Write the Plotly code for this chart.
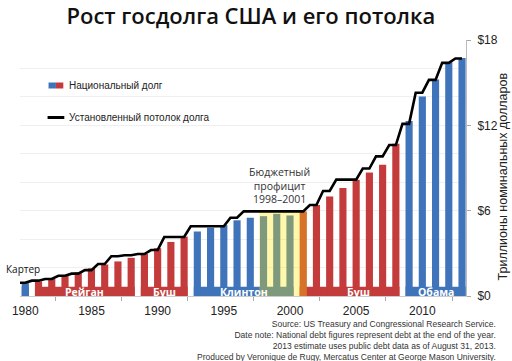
import plotly.graph_objects as go

# ---------------- data ----------------
years = list(range(1980, 2014))
debt = [0.930, 1.028, 1.197, 1.410, 1.663, 1.946, 2.215, 2.431, 2.684, 2.953,
        3.364, 3.801, 4.177, 4.536, 4.801, 4.988, 5.323, 5.503, 5.614, 5.776,
        5.662, 5.943, 6.406, 6.998, 7.596, 8.170, 8.680, 9.229, 10.700, 12.311,
        14.025, 15.223, 16.433, 16.738]
ceiling = [0.93, 1.08, 1.20, 1.42, 1.57, 1.82, 2.25, 2.80, 2.87, 2.95,
           3.23, 4.145, 4.145, 4.90, 4.90, 4.90, 5.50, 5.95, 5.95, 5.95,
           5.95, 5.95, 6.40, 7.384, 8.184, 8.184, 8.965, 9.815, 10.615, 12.104,
           14.294, 15.194, 16.394, 16.699]
presidents = ["Картер", "Рейган", "Буш", "Клинтон", "Буш", "Обама"]
pres_start = [1980, 1981, 1989, 1993, 2001, 2009]
pres_end = [1980, 1988, 1992, 2000, 2008, 2013]
pres_party = ["D", "R", "R", "D", "R", "D"]
surplus_start, surplus_end = 1998, 2001
x_ticks = [1980, 1985, 1990, 1995, 2000, 2005, 2010]
y_ticks = [0, 6, 12, 18]
y_ticktext = ["$0", "$6", "$12", "$18"]

# ---------------- style ----------------
BLUE = "#3F74BA"
RED = "#C43B3C"
party_color = {"D": BLUE, "R": RED}
BAR_W = 0.54
BAND_H = 0.65
FONT = "Liberation Sans, Arial, sans-serif"
FONT2 = "Open Sans, sans-serif"

# plot area in pixels
L, R, T, B = 13, 466, 40, 296
W, H = 512, 361


def px(x):
    return (x - L) / (R - L)


def py(y):
    return (B - y) / (B - T)


def year_party(y):
    for s, e, p in zip(pres_start, pres_end, pres_party):
        if s <= y <= e:
            return p
    return "D"


fig = go.Figure()

# presidency base bands
fig.add_trace(go.Bar(
    x=[(s + e) / 2 for s, e in zip(pres_start, pres_end)],
    y=[BAND_H] * len(presidents),
    width=[e - s + BAR_W for s, e in zip(pres_start, pres_end)],
    marker=dict(color=[party_color[p] for p in pres_party], line=dict(width=0)),
    hoverinfo="skip", showlegend=False))

# annual debt bars
fig.add_trace(go.Bar(
    x=years, y=debt, width=[BAR_W] * len(years),
    marker=dict(color=[party_color[year_party(y)] for y in years], line=dict(width=0)),
    showlegend=False))

# surplus highlight
sx0 = surplus_start - BAR_W / 2 - 0.05
sx1 = surplus_end + BAR_W / 2
fig.add_trace(go.Bar(
    x=[(sx0 + sx1) / 2], y=[ceiling[years.index(surplus_start)]], width=[sx1 - sx0],
    marker=dict(color="rgba(255,232,0,0.33)", line=dict(width=0)),
    hoverinfo="skip", showlegend=False))

# debt ceiling line: plateau in the half-year before each year, ramp after
lx, ly = [], []
for yr, c in zip(years, ceiling):
    lx += [yr - 0.5, yr]
    ly += [c, c]
fig.add_trace(go.Scatter(x=lx, y=ly, mode="lines",
                         line=dict(color="black", width=2.6),
                         showlegend=False))

annotations = []
# president labels
for name, s, e in zip(presidents, pres_start, pres_end):
    if s == e:
        annotations.append(dict(x=s, y=debt[years.index(s)], text=name, showarrow=False,
                                xanchor="center", yanchor="bottom", xshift=-2, yshift=5,
                                font=dict(family=FONT2, size=10, color="#111")))
    else:
        shift = 0
        if s <= surplus_end <= e:
            shift = 9
        annotations.append(dict(x=(s + e) / 2, y=BAND_H / 2, text=name, showarrow=False,
                                xanchor="center", yanchor="middle", xshift=shift, yshift=-1,
                                font=dict(family=FONT2, size=10.5, color="white", weight="bold")))

# surplus annotation
annotations.append(dict(x=(surplus_start + surplus_end) / 2,
                        y=ceiling[years.index(surplus_start)],
                        text="Бюджетный<br>профицит<br>1998–2001", showarrow=False,
                        xanchor="center", yanchor="bottom", xshift=-4, yshift=3,
                        font=dict(family=FONT2, size=10.5, color="#333")))

# legend texts
annotations.append(dict(xref="paper", yref="paper", x=px(61), y=py(85.5),
                        text="Национальный долг", showarrow=False,
                        xanchor="left", yanchor="middle",
                        font=dict(family=FONT, size=10, color="#222")))
annotations.append(dict(xref="paper", yref="paper", x=px(61), y=py(117.5),
                        text="Установленный потолок долга", showarrow=False,
                        xanchor="left", yanchor="middle",
                        font=dict(family=FONT, size=10, color="#222")))

# right axis title
annotations.append(dict(xref="paper", yref="paper", x=px(504), y=py(176),
                        text="Триллионы номинальных долларов", showarrow=False,
                        textangle=-90, xanchor="center", yanchor="middle",
                        font=dict(family=FONT, size=12.5, color="#222")))

# source text
annotations.append(dict(xref="paper", yref="paper", x=px(498), y=py(317),
                        text=("Source: US Treasury and Congressional Research Service.<br>"
                              "Date note: National debt figures represent debt at the end of the year.<br>"
                              "2013 estimate uses public debt data as of August 31, 2013.<br>"
                              "Produced by Veronique de Rugy, Mercatus Center at George Mason University."),
                        showarrow=False, xanchor="right", yanchor="top", align="right",
                        font=dict(family=FONT, size=8.5, color="#333")))

shapes = [
    dict(type="rect", xref="paper", yref="paper", x0=px(42), x1=px(49.5), y0=py(88.5), y1=py(82.5),
         fillcolor=BLUE, line=dict(width=0)),
    dict(type="rect", xref="paper", yref="paper", x0=px(49.5), x1=px(57), y0=py(88.5), y1=py(82.5),
         fillcolor=RED, line=dict(width=0)),
    dict(type="line", xref="paper", yref="paper", x0=px(41), x1=px(58), y0=py(117.5), y1=py(117.5),
         line=dict(color="black", width=3)),
]

fig.update_layout(
    width=W, height=H,
    margin=dict(l=L, r=W - R, t=T, b=H - B),
    paper_bgcolor="white", plot_bgcolor="white",
    barmode="overlay",
    title=dict(text="Рост госдолга США и его потолка", x=0.49, xanchor="center",
               y=1 - 16 / H, yanchor="middle", xref="container", yref="container",
               font=dict(family=FONT2, size=22, color="#111", weight=600)),
    annotations=annotations,
    shapes=shapes,
    xaxis=dict(range=[1979.6, 2013.3], tickvals=x_ticks, ticktext=[str(v) for v in x_ticks],
               ticks="", showgrid=False, zeroline=False, showline=True, linecolor="#cccccc",
               ticklabelstandoff=4,
               tickfont=dict(family=FONT, size=12, color="#222"),
               minor=dict(ticks="outside", tick0=1982.25, dtick=5, ticklen=4,
                          tickcolor="#aaaaaa", showgrid=False)),
    yaxis=dict(range=[0, 18], side="right", tickvals=y_ticks, ticktext=y_ticktext,
               ticks="outside", ticklen=4, tickcolor="#aaaaaa",
               showline=True, linecolor="#bbbbbb", zeroline=False,
               showgrid=True, gridcolor="#efefef",
               minor=dict(dtick=2, showgrid=True, gridcolor="#efefef"),
               ticklabelstandoff=4,
               tickfont=dict(family=FONT, size=12, color="#222")),
)

fig.write_html("out.html", config={"displayModeBar": False},
               post_script="document.body.style.margin='0px';")
